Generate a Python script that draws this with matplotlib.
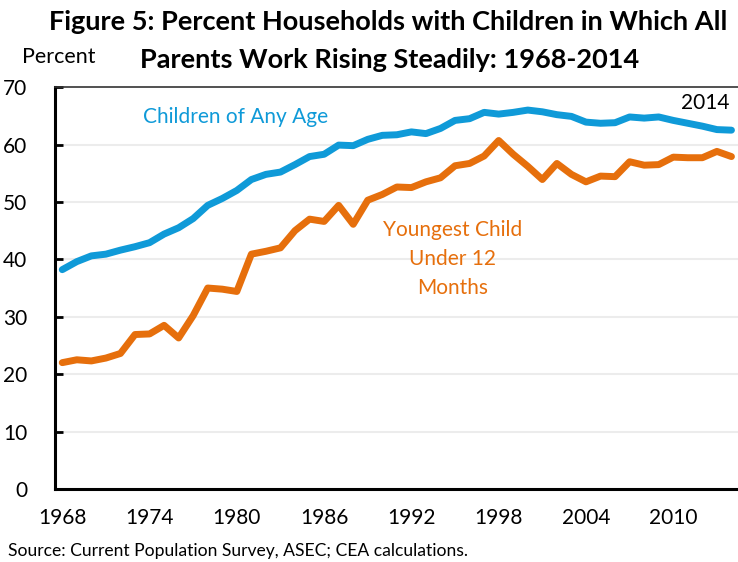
import numpy as np
import matplotlib
matplotlib.use("Agg")
from matplotlib import pyplot as plt

plt.rcParams['font.family'] = ['Lato', 'DejaVu Sans']

years = list(range(1968, 2015))

any_age = [38.2, 39.6, 40.6, 40.9, 41.6, 42.2, 42.9, 44.4, 45.5, 47.1,
           49.4, 50.6, 52.0, 53.9, 54.8, 55.2, 56.5, 57.9, 58.3, 59.9,
           59.8, 60.9, 61.6, 61.7, 62.2, 61.9, 62.8, 64.2, 64.5, 65.6,
           65.3, 65.6, 66.0, 65.7, 65.2, 64.9, 63.9, 63.7, 63.8, 64.8,
           64.6, 64.8, 64.2, 63.7, 63.2, 62.6, 62.5]

under_12m = [22.0, 22.5, 22.3, 22.8, 23.6, 26.9, 27.0, 28.5, 26.3, 30.2,
             35.0, 34.8, 34.4, 40.9, 41.4, 42.0, 45.0, 47.0, 46.6, 49.4,
             46.1, 50.3, 51.3, 52.6, 52.5, 53.5, 54.2, 56.3, 56.7, 58.0,
             60.7, 58.3, 56.2, 53.9, 56.7, 54.8, 53.5, 54.5, 54.4, 57.0,
             56.4, 56.5, 57.8, 57.7, 57.7, 58.8, 57.9]

year_ticks = [1968, 1974, 1980, 1986, 1992, 1998, 2004, 2010]
pct_ticks = [0, 10, 20, 30, 40, 50, 60, 70]

blue = '#0f9ad8'
orange = '#e66f0c'

fig = plt.figure(figsize=(7.38, 5.62), dpi=100)
ax = fig.add_axes([0.0745, 0.130, 0.9255, 0.715])

for v in pct_ticks[1:-1]:
    ax.axhline(v, color='#ececec', lw=1.5, zorder=0)

ax.plot(years, any_age, color=blue, lw=5, solid_capstyle='round', solid_joinstyle='round')
ax.plot(years, under_12m, color=orange, lw=5, solid_capstyle='round', solid_joinstyle='round')

ax.set_xlim(1967.5, 2014.45)
ax.set_ylim(0, 70)
ax.set_xticks(year_ticks)
ax.set_xticklabels([str(y) for y in year_ticks], fontsize=15)
ax.set_yticks(pct_ticks)
ax.set_yticklabels([str(p) for p in pct_ticks], fontsize=15)
ax.tick_params(axis='x', length=0, pad=14)
ax.tick_params(axis='y', direction='in', length=6, width=2, pad=20)

for s in ['left', 'bottom']:
    ax.spines[s].set_linewidth(2.2)
    ax.spines[s].set_color('black')
ax.spines['top'].set_linewidth(1.2)
ax.spines['top'].set_color('#333333')
ax.spines['right'].set_visible(False)

ax.text(1979.9, 64.8, 'Children of Any Age', color=blue, fontsize=15, ha='center', va='center')
ax.text(1994.8, 40.1, 'Youngest Child\nUnder 12\nMonths', color=orange, fontsize=15,
        ha='center', va='center', linespacing=1.55)
ax.text(2012.2, 67.2, '2014', color='black', fontsize=15, ha='center', va='center')

fig.text(0.526, 0.961, 'Figure 5: Percent Households with Children in Which All',
         fontsize=19.5, fontweight='bold', ha='center', va='center')
fig.text(0.528, 0.893, 'Parents Work Rising Steadily: 1968-2014',
         fontsize=19.5, fontweight='bold', ha='center', va='center')
fig.text(0.030, 0.898, 'Percent', fontsize=15.5, ha='left', va='center')
fig.text(0.011, 0.020, 'Source: Current Population Survey, ASEC; CEA calculations.',
         fontsize=12.6, ha='left', va='center')

fig.savefig('out.png', dpi=100)
